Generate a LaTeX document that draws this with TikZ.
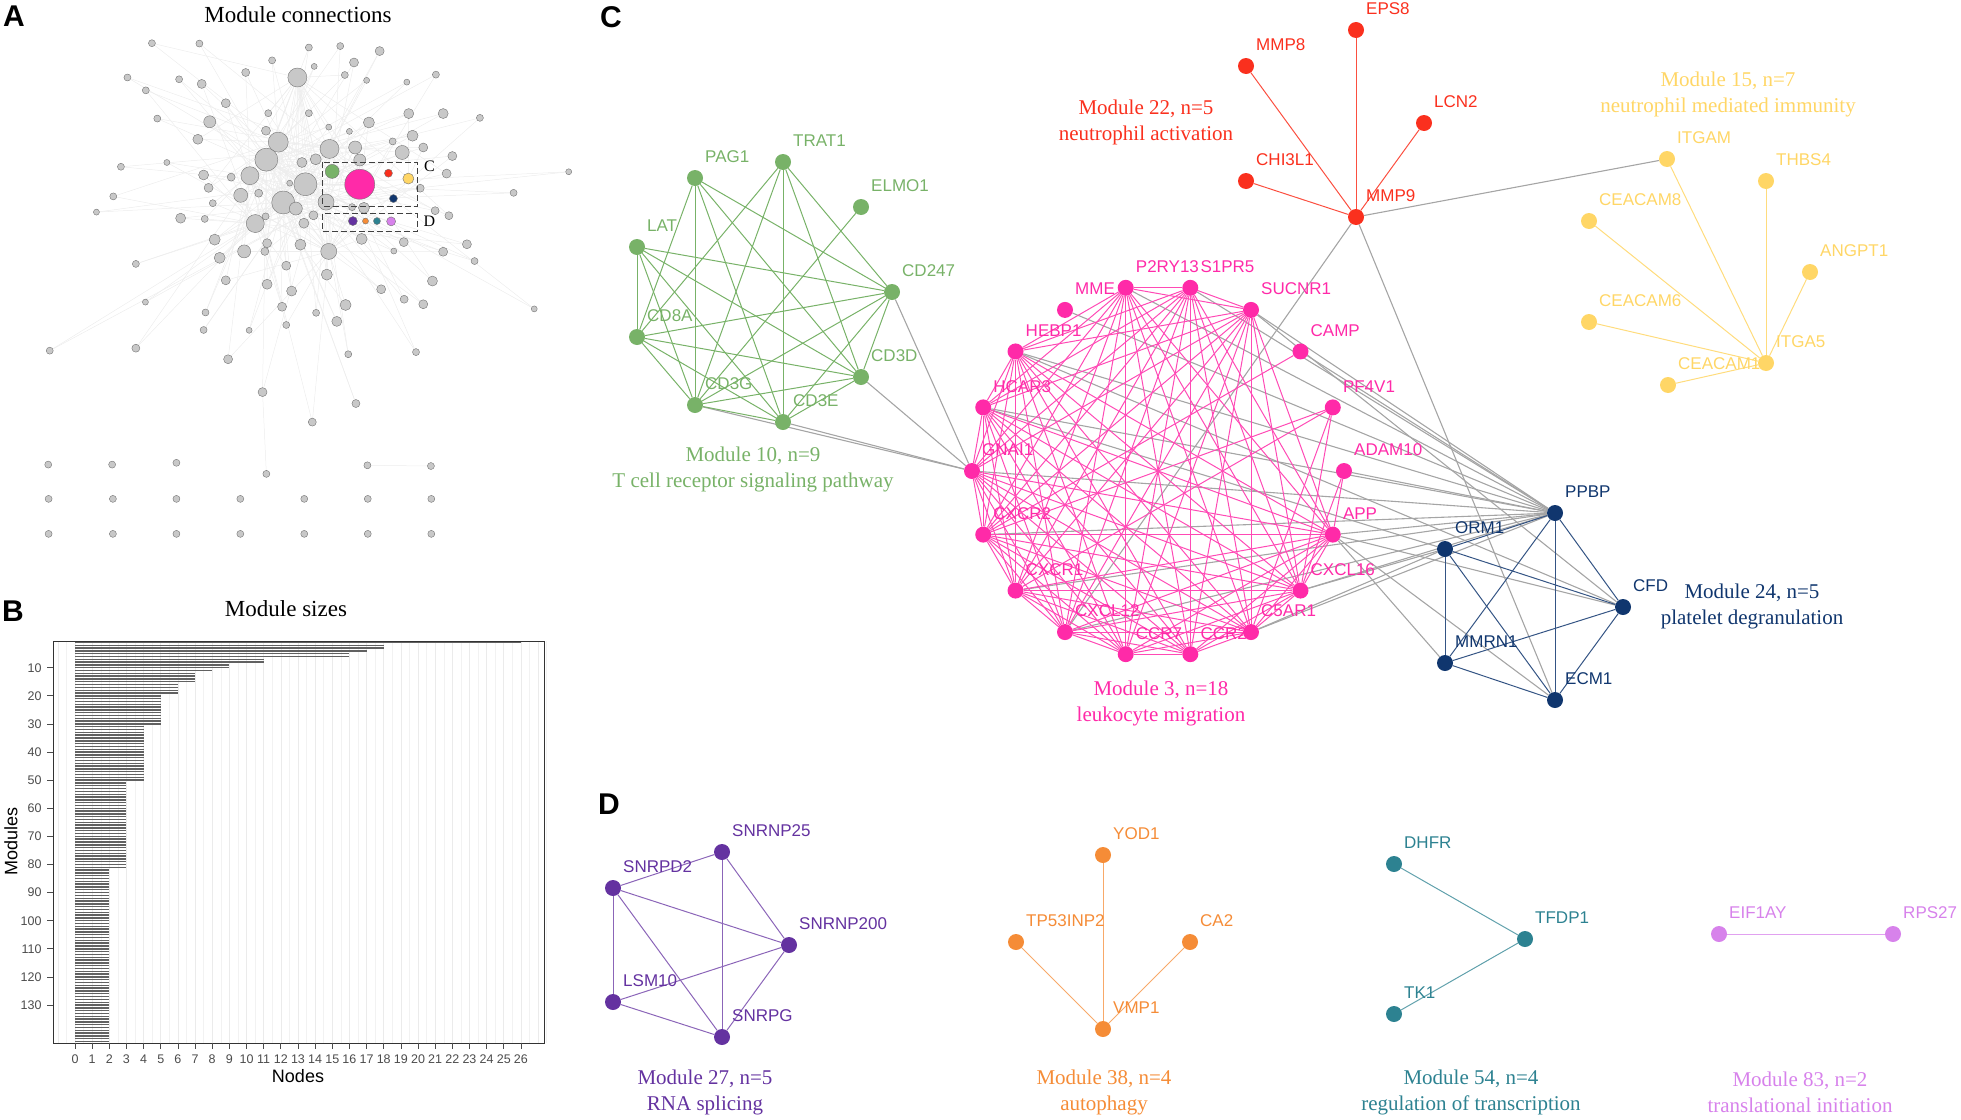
\documentclass[tikz,border=0pt]{standalone}
\usepackage{fontspec}
\setmainfont{Liberation Serif}
\setsansfont{Liberation Sans}
\usetikzlibrary{backgrounds}

\definecolor{mgreen}{RGB}{120,178,104}
\definecolor{mpink}{RGB}{255,42,168}
\definecolor{mred}{RGB}{250,48,30}
\definecolor{myellow}{RGB}{255,214,102}
\definecolor{mnavy}{RGB}{16,54,110}
\definecolor{mpurple}{RGB}{100,50,160}
\definecolor{morange}{RGB}{245,140,55}
\definecolor{mteal}{RGB}{45,130,145}
\definecolor{mlilac}{RGB}{215,130,235}
\definecolor{edgegray}{RGB}{165,165,165}
\definecolor{agray}{RGB}{200,200,200}

\newcommand{\genefont}{\sffamily\fontsize{17}{17}\selectfont}
\newcommand{\modfont}{\rmfamily\fontsize{21}{26}\selectfont}
\newcommand{\tickfont}{\sffamily\fontsize{12.5}{13}\selectfont}

% name, x, y, label, colour
\newcommand{\gene}[5]{%
  \node[gene=#5] (#1) at (#2,#3) {};
  \node[gtext=#5] (#1-t) at ([shift={(10,-21)}]#1.center) {#4};}

\begin{document}
\begin{tikzpicture}[
    x = 1pt, y = -1pt, % picture pixels, y downwards
    gene/.style = {circle, inner sep=0pt, minimum size=16pt, fill=#1},
    gtext/.style = {anchor=west, inner sep=0pt, text=#1, font=\genefont},
    modtext/.style = {align=center, text=#1, font=\modfont},
    link/.style = {draw=#1, line width=1pt},
    xlink/.style = {draw=edgegray, line width=1.1pt},
    anode/.style = {circle, inner sep=0pt, draw=black!55, line width=0.4pt, fill=#1},
    aedge/.style = {draw=black!7, line width=0.5pt},
    panel/.style = {font=\sffamily\bfseries\fontsize{30}{30}\selectfont},
    title/.style = {font=\rmfamily\fontsize{23}{23}\selectfont}
  ]

  \useasboundingbox (0,0) rectangle (1961,1119);

  \node[panel] (pa) at (14,16) {A};
  \node[panel] (pb) at (13,611) {B};
  \node[panel] (pc) at (611,17) {C};
  \node[panel] (pd) at (609,804) {D};

  % ---------- A: module connections ----------
  \node[title] (ta) at (298,15) {Module connections};
  \begin{scope}[x=0.3827pt, y=-0.3571pt]
    \foreach \x/\y/\d [count=\i] in {397/121/7, 521/122/7, 807/133/7, 889/129/7, 992/143/9, 711/169/7, 925/175/9, 821/186/6, 642/203/8, 777/217/19, 901/210/7, 958/225/6, 1063/230/6, 1139/209/7, 333/217/7, 468/222/7, 527/235/9, 381/253/7, 590/289/9, 701/317/7, 807/317/7, 1068/318/10, 1158/318/10, 1254/330/7, 411/332/7, 548/341/12, 964/343/11, 859/356/6, 913/368/6, 695/366/9, 517/390/10, 727/398/20, 1078/380/11, 1026/396/7, 1106/413/9, 861/417/19, 928/413/13, 1051/427/14, 1182/437/9, 696/447/23, 825/446/11, 789/455/10, 940/448/12, 436/455/6, 316/467/7, 1486/481/6, 532/490/10, 604/496/8, 653/492/18, 1167/486/9, 545/526/9, 798/516/23, 757/513/6, 676/541/8, 629/547/14, 1342/540/7, 1098/527/8, 296/550/7, 556/569/7, 740/567/23, 773/584/13, 852/566/16, 920/580/7, 951/582/11, 1137/590/8, 252/594/6, 472/611/10, 535/613/7, 694/606/7, 819/603/9, 1173/604/8, 667/626/18, 794/625/10, 945/669/11, 561/671/11, 1055/678/9, 1220/684/9, 698/681/9, 638/704/13, 692/704/8, 785/685/11, 859/704/16, 1029/703/6, 1158/705/9, 574/722/11, 1240/731/7, 355/739/7, 748/744/9, 590/785/9, 854/769/11, 1130/787/10, 698/796/10, 762/815/10, 996/810/9, 1056/838/8, 1106/852/9, 380/846/6, 737/859/9, 903/854/11, 826/876/7, 537/875/7, 1396/865/6, 880/900/10, 748/910/7, 532/924/7, 651/925/6, 130/982/7, 355/975/8, 596/1006/9, 910/992/7, 1087/986/7, 686/1098/9, 930/1130/8, 816/1182/8}
      \node[anode=agray, minimum size=\d pt] (a\i) at (\x,\y) {};

    \foreach \x/\y [count=\i] in {126/1301, 293/1301, 461/1296, 696/1327, 960/1303, 1126/1305}
      \node[anode=agray, minimum size=7pt] (b\i) at (\x,\y) {};
    \foreach \y [count=\r] in {1397,1495}
      \foreach \x [count=\c] in {127,295,461,628,795,961,1127}
        \node[anode=agray, minimum size=7pt] (g\r-\c) at (\x,\y) {};

    \node[anode=mgreen, minimum size=14pt] (agreen) at (868,480) {};
    \node[anode=mpink, minimum size=30pt] (apink) at (940,516) {};
    \node[anode=mred, minimum size=8pt] (ared) at (1015,485) {};
    \node[anode=myellow, minimum size=11pt] (ayellow) at (1067,500) {};
    \node[anode=mnavy, minimum size=8pt] (anavy) at (1028,556) {};
    \node[anode=mpurple, minimum size=9pt] (apurple) at (922,619) {};
    \node[anode=morange, minimum size=6pt] (aorange) at (955,619) {};
    \node[anode=mteal, minimum size=7pt] (ateal) at (985,619) {};
    \node[anode=mlilac, minimum size=9pt] (alilac) at (1022,620) {};

    \draw[dashed, dash pattern=on 6pt off 3pt, line width=0.8pt, black!75] (843,455) rectangle (1090,578);
    \draw[dashed, dash pattern=on 6pt off 3pt, line width=0.8pt, black!75] (843,598) rectangle (1090,648);
    \node[font=\rmfamily\fontsize{16}{16}\selectfont] (boxc) at (1122,465) {C};
    \node[font=\rmfamily\fontsize{16}{16}\selectfont] (boxd) at (1122,620) {D};

    \begin{pgfonlayer}{background}
      \foreach \i in {1,...,114} {
        \pgfmathtruncatemacro\ha{{10,32,36,40,49,52,60,62,72,82}[mod(\i,10)]}
        \pgfmathtruncatemacro\hb{{10,32,36,40,49,52,60,62,72,82}[mod(3*\i+7,10)]}
        \ifnum\ha=\i\else \draw[aedge] (a\i) -- (a\ha); \fi
        \ifnum\hb=\i\else \draw[aedge] (a\i) -- (a\hb); \fi
      }
      \foreach \h in {10,27,32,36,37,40,43,52,60,62,64,82}
        \draw[aedge] (apink) -- (a\h);
      \foreach \c/\h in {agreen/36, agreen/52, ared/38, ayellow/35, anavy/64, ayellow/22}
        \draw[aedge] (\c) -- (a\h);
      \draw[aedge] (b5) -- (b6);
      \draw[aedge] (a112) -- (b4);
    \end{pgfonlayer}
  \end{scope}

  % ---------- B: module sizes ----------
  \node[title] (tb) at (286,609) {Module sizes};
  \foreach \g in {-1,...,27} {
    \draw[black!8, line width=0.6pt] (75+\g*17.15,641) -- (75+\g*17.15,1043);
    \draw[black!5, line width=0.4pt] (83.575+\g*17.15,641) -- (83.575+\g*17.15,1043);
  }
  \foreach \from/\to/\v in {1/1/26, 2/3/18, 4/4/17, 5/6/16, 7/8/11, 9/10/9, 11/11/8, 12/15/7, 16/19/6, 20/30/5, 31/50/4, 51/81/3, 82/143/2}
    \foreach \k in {\from,...,\to}
      \draw[black!62, line width=1.4pt] (75,{641+(\k-0.5)*2.811}) -- ++(\v*17.15,0);
  \draw[black!80, line width=0.9pt] (53,641) rectangle (544,1043);
  \foreach \t in {0,...,26} {
    \draw[black!70, line width=0.7pt] (75+\t*17.15,1043) -- ++(0,6);
    \node[font=\tickfont, text=black!70] (xt\t) at (75+\t*17.15,1059) {\t};
  }
  \foreach \t in {10,20,...,130} {
    \draw[black!70, line width=0.7pt] (47,{641+(\t-0.5)*2.811}) -- (53,{641+(\t-0.5)*2.811});
    \node[font=\tickfont, text=black!70, anchor=east] (yt\t) at (45,{641+(\t-0.5)*2.811}) {\t};
  }
  \node[font=\sffamily\fontsize{18}{18}\selectfont] (xl) at (298,1076) {Nodes};
  \node[font=\sffamily\fontsize{18}{18}\selectfont, rotate=90] (yl) at (11,841) {Modules};

  % ---------- C: modules ----------
  \gene{pag}{695}{178}{PAG1}{mgreen}
  \gene{trat}{783}{162}{TRAT1}{mgreen}
  \gene{elmo}{861}{207}{ELMO1}{mgreen}
  \gene{lat}{637}{247}{LAT}{mgreen}
  \gene{cdtwo}{892}{292}{CD247}{mgreen}
  \gene{cdeight}{637}{337}{CD8A}{mgreen}
  \gene{cdd}{861}{377}{CD3D}{mgreen}
  \gene{cdg}{695}{405}{CD3G}{mgreen}
  \gene{cde}{783}{422}{CD3E}{mgreen}
  \node[modtext=mgreen] (m10) at (753,469) {Module 10, n=9\\T cell receptor signaling pathway};

  \gene{eps}{1356}{30}{EPS8}{mred}
  \gene{mmpe}{1246}{66}{MMP8}{mred}
  \gene{lcn}{1424}{123}{LCN2}{mred}
  \gene{chi}{1246}{181}{CHI3L1}{mred}
  \gene{mmpn}{1356}{217}{MMP9}{mred}
  \node[modtext=mred] (m22) at (1146,122) {Module 22, n=5\\neutrophil activation};

  \gene{itgam}{1667}{159}{ITGAM}{myellow}
  \gene{thbs}{1766}{181}{THBS4}{myellow}
  \gene{ceae}{1589}{221}{CEACAM8}{myellow}
  \gene{angpt}{1810}{272}{ANGPT1}{myellow}
  \gene{ceas}{1589}{322}{CEACAM6}{myellow}
  \gene{itga}{1766}{363}{ITGA5}{myellow}
  \gene{ceao}{1668}{385}{CEACAM1}{myellow}
  \node[modtext=myellow] (m15) at (1728,94) {Module 15, n=7\\neutrophil mediated immunity};

  \foreach \nm/\txt [count=\k from 0] in {mme/MME, ptwo/P2RY13, sone/S1PR5, sucnr/SUCNR1, camp/CAMP, pfour/PF4V1, adam/ADAM10, app/APP, cxclb/CXCL16, cfive/C5AR1, ccrb/CCR2, ccra/CCR7, cxcla/CXCL12, cxcra/CXCR1, cxcrb/CXCR2, gnai/GNAI1, hcar/HCAR3, hebp/HEBP1} {
    \node[gene=mpink] (\nm) at ([shift={(20*\k-120:186)}]1158,471) {};
    \node[gtext=mpink] (\nm-t) at ([shift={(10,-21)}]\nm.center) {\txt};
  }
  \node[modtext=mpink] (m3) at (1161,703) {Module 3, n=18\\leukocyte migration};

  \gene{ppbp}{1555}{513}{PPBP}{mnavy}
  \gene{orm}{1445}{549}{ORM1}{mnavy}
  \gene{cfd}{1623}{607}{CFD}{mnavy}
  \gene{mmrn}{1445}{663}{MMRN1}{mnavy}
  \gene{ecm}{1555}{700}{ECM1}{mnavy}
  \node[modtext=mnavy] (m24) at (1752,606) {Module 24, n=5\\platelet degranulation};

  % ---------- D: modules ----------
  \gene{snrnpa}{722}{852}{SNRNP25}{mpurple}
  \gene{snrpd}{613}{888}{SNRPD2}{mpurple}
  \gene{snrnpb}{789}{945}{SNRNP200}{mpurple}
  \gene{lsm}{613}{1002}{LSM10}{mpurple}
  \gene{snrpg}{722}{1037}{SNRPG}{mpurple}
  \node[modtext=mpurple] (m27) at (705,1092) {Module 27, n=5\\RNA splicing};

  \gene{yod}{1103}{855}{YOD1}{morange}
  \gene{tp}{1016}{942}{TP53INP2}{morange}
  \gene{ca}{1190}{942}{CA2}{morange}
  \gene{vmp}{1103}{1029}{VMP1}{morange}
  \node[modtext=morange] (m38) at (1104,1092) {Module 38, n=4\\autophagy};

  \gene{dhfr}{1394}{864}{DHFR}{mteal}
  \gene{tfdp}{1525}{939}{TFDP1}{mteal}
  \gene{tk}{1394}{1014}{TK1}{mteal}
  \node[modtext=mteal] (m54) at (1471,1092) {Module 54, n=4\\regulation of transcription};

  \gene{eif}{1719}{934}{EIF1AY}{mlilac}
  \gene{rps}{1893}{934}{RPS27}{mlilac}
  \node[modtext=mlilac] (m83) at (1800,1092) {Module 83, n=2\\translational initiation};

  \begin{pgfonlayer}{background}
    % links between modules
    \foreach \a/\b in {cdtwo/gnai, cdd/gnai, cdg/gnai, cde/gnai, mmpn/itgam, mmpn/ecm, mmpn/cxcla,
        ppbp/mme, ppbp/ptwo, ppbp/sone, ppbp/sucnr, ppbp/camp, ppbp/adam, ppbp/hebp, ppbp/hcar, ppbp/gnai,
        ppbp/cxcrb, ppbp/cxcra, ppbp/cxcla, ppbp/app, ppbp/cxclb, ppbp/cfive,
        orm/cxclb, orm/cfive, orm/hcar, cfd/sucnr, cfd/app, cfd/hebp, mmrn/app, ecm/app}
      \draw[xlink] (\a) -- (\b);

    \foreach \a/\b in {pag/cdg, pag/cdtwo, pag/cdd, pag/cde, pag/cdeight, trat/cdeight, trat/cdg, trat/cde, trat/cdd, trat/cdtwo,
        elmo/cdg, lat/cdtwo, lat/cdd, lat/cdeight, lat/cdg, lat/cde, cdeight/cdtwo, cdeight/cdd, cdeight/cdg, cdeight/cde,
        cdtwo/cdd, cdtwo/cdg, cdtwo/cde, cdd/cdg, cdd/cde, cdg/cde}
      \draw[link=mgreen] (\a) -- (\b);

    \foreach \b in {eps, mmpe, lcn, chi} \draw[link=mred!85] (mmpn) -- (\b);
    \foreach \b in {itgam, thbs, ceae, angpt, ceas, ceao} \draw[link=myellow!85] (itga) -- (\b);

    \foreach \a [count=\i] in {ptwo,sone,sucnr,app,cxclb,cfive,ccrb,ccra,cxcla,cxcra,cxcrb,gnai,hcar,hebp}
      \foreach \b [count=\j] in {ptwo,sone,sucnr,app,cxclb,cfive,ccrb,ccra,cxcla,cxcra,cxcrb,gnai,hcar,hebp}
        {\ifnum\j>\i \draw[link=mpink!85] (\a) -- (\b); \fi}
    \foreach \a/\b in {camp/cxcrb, pfour/cxcrb, pfour/cxcra, pfour/cxclb, pfour/cfive, adam/app, adam/cxclb}
      \draw[link=mpink!85] (\a) -- (\b);

    \foreach \a/\b in {ppbp/cfd, ppbp/ecm, ppbp/mmrn, ppbp/orm, orm/cfd, orm/mmrn, orm/ecm, cfd/mmrn, cfd/ecm, mmrn/ecm}
      \draw[link=mnavy!85] (\a) -- (\b);

    \foreach \a/\b in {snrnpa/snrpd, snrnpa/snrnpb, snrnpa/snrpg, snrpd/snrnpb, snrpd/lsm, snrpd/snrpg, lsm/snrnpb, lsm/snrpg, snrpg/snrnpb}
      \draw[link=mpurple!75] (\a) -- (\b);
    \foreach \b in {yod, tp, ca} \draw[link=morange!75] (vmp) -- (\b);
    \foreach \b in {dhfr, tk} \draw[link=mteal!75] (tfdp) -- (\b);
    \draw[link=mlilac!75] (eif) -- (rps);
  \end{pgfonlayer}

\end{tikzpicture}
\end{document}
